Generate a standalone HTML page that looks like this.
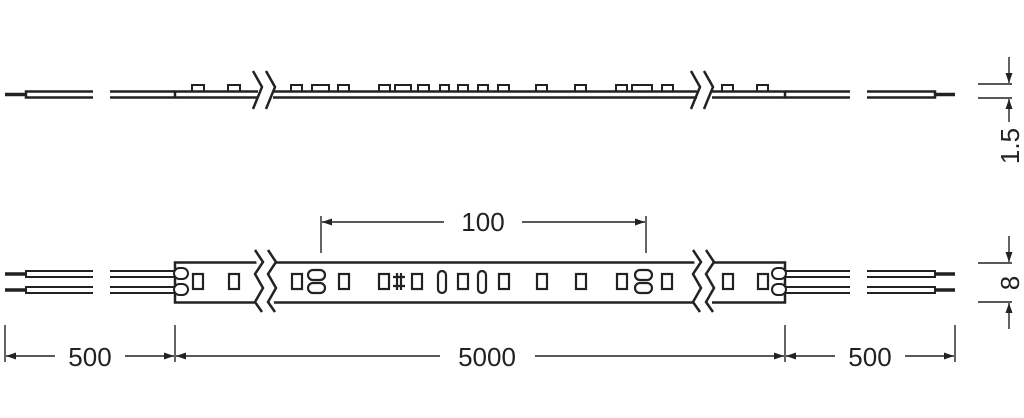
<!DOCTYPE html>
<html><head><style>
html,body{margin:0;padding:0;background:#fff;width:1024px;height:418px;overflow:hidden}
svg{display:block}
text{font-family:"Liberation Sans",sans-serif;fill:#222}
</style></head><body>
<svg width="1024" height="418" viewBox="0 0 1024 418" xmlns="http://www.w3.org/2000/svg">
<defs>
<marker id="a" viewBox="0 0 10 10" refX="10" refY="5" markerWidth="10" markerHeight="10" markerUnits="userSpaceOnUse" orient="auto"><path d="M0,1.5 L10,5 L0,8.5 z" fill="#222"/></marker>
</defs>
<g stroke="#222" stroke-width="2.5" fill="none">
<!-- TOP VIEW -->
<line x1="5" y1="94.5" x2="26" y2="94.5" stroke-width="3.5"/>
<path d="M93,91.5 H26 V97.5 H93"/>
<path d="M110,91.5 H175 M110,97.5 H175"/>
<path d="M175,97.5 V91.5 H258 M175,97.5 H258"/>
<path d="M273,91.5 H697 M273,97.5 H697"/>
<path d="M712,91.5 H785 V97.5 H712"/>
<path d="M785,91.5 H850 M785,97.5 H850"/>
<path d="M867,91.5 H935 V97.5 H867"/>
<line x1="935" y1="94.5" x2="955" y2="94.5" stroke-width="3.5"/>
<path d="M253,71 L262,87 L253,109 M266,71 L275,87 L266,109"/>
<path d="M691,71 L700,87 L691,109 M704,71 L713,87 L704,109"/>
<g stroke-width="2">
<path d="M192,91 V85 H204 V91 M228,91 V85 H240 V91"/>
<path d="M291,91 V85 H302 V91 M312,91 V85 H329 V91 M338,91 V85 H349 V91"/>
<path d="M379,91 V85 H390 V91 M395,91 V85 H411 V91 M418,91 V85 H429 V91"/>
<path d="M440,91 V85 H449 V91 M458,91 V85 H468 V91 M478,91 V85 H488 V91 M498,91 V85 H509 V91"/>
<path d="M536,91 V85 H547 V91 M575,91 V85 H586 V91 M616,91 V85 H627 V91 M632,91 V85 H652 V91 M662,91 V85 H673 V91"/>
<path d="M722,91 V85 H733 V91 M757,91 V85 H768 V91"/>
</g>
<!-- BOTTOM VIEW -->
<path d="M93,271 H26 V277 H93 M93,287 H26 V293 H93" stroke-width="2"/>
<path d="M5,274 H26 M5,290 H26" stroke-width="3.5"/>
<path d="M110,271 H180 M110,277 H180 M110,287 H180 M110,293 H180" stroke-width="2"/>
<path d="M258,262.5 H175 V302.5 H258"/>
<path d="M273,262.5 H697 M273,302.5 H697"/>
<path d="M712,262.5 H785 V302.5 H712"/>
<path d="M780,271 H850 M780,277 H850 M780,287 H850 M780,293 H850" stroke-width="2"/>
<path d="M867,271 H935 V277 H867 M867,287 H935 V293 H867" stroke-width="2"/>
<path d="M935,274 H955 M935,290 H955" stroke-width="3.5"/>
<rect x="174" y="268" width="14" height="11" rx="5.5" fill="#fff" stroke-width="2"/>
<rect x="174" y="284" width="14" height="11" rx="5.5" fill="#fff" stroke-width="2"/>
<rect x="772" y="268" width="14" height="11" rx="5.5" fill="#fff" stroke-width="2"/>
<rect x="772" y="284" width="14" height="11" rx="5.5" fill="#fff" stroke-width="2"/>
<path d="M255,250 L263,262 L255,274 L263,288 L255,302 L262,312 M268,250 L276,262 L268,274 L276,288 L268,302 L275,312" fill="#fff"/>
<path d="M693,250 L701,262 L693,274 L701,288 L693,302 L700,312 M706,250 L714,262 L706,274 L714,288 L706,302 L713,312" fill="#fff"/>
<g stroke-width="2.2">
<rect x="193" y="274" width="10" height="15"/><rect x="229" y="274" width="10" height="15"/>
<rect x="292" y="274" width="10" height="15"/>
<rect x="308" y="270" width="17" height="10" rx="5"/><rect x="308" y="283" width="17" height="10" rx="5"/>
<rect x="339" y="274" width="10" height="15"/>
<rect x="379" y="274" width="10" height="15"/>
<path d="M393,277 H405 M393,286 H405 M397,273 V290 M401,273 V290"/>
<rect x="412" y="274" width="10" height="15"/>
<rect x="438" y="271" width="8" height="22" rx="4"/>
<rect x="458" y="274" width="10" height="15"/>
<rect x="478" y="271" width="8" height="22" rx="4"/>
<rect x="499" y="274" width="10" height="15"/>
<rect x="537" y="274" width="10" height="15"/>
<rect x="576" y="274" width="10" height="15"/>
<rect x="617" y="274" width="10" height="15"/>
<rect x="635" y="270" width="17" height="10" rx="5"/><rect x="635" y="283" width="17" height="10" rx="5"/>
<rect x="662" y="274" width="10" height="15"/>
<rect x="723" y="274" width="10" height="15"/>
<rect x="758" y="274" width="10" height="15"/>
</g>
<!-- DIMENSIONS -->
<g stroke-width="1.4">
<line x1="321" y1="216" x2="321" y2="253"/><line x1="646" y1="216" x2="646" y2="253"/>
<line x1="444" y1="222" x2="322" y2="222" marker-end="url(#a)"/>
<line x1="522" y1="222" x2="645" y2="222" marker-end="url(#a)"/>
<line x1="5" y1="325" x2="5" y2="362"/><line x1="175" y1="325" x2="175" y2="362"/>
<line x1="785" y1="325" x2="785" y2="362"/><line x1="955" y1="325" x2="955" y2="362"/>
<line x1="55" y1="356" x2="6" y2="356" marker-end="url(#a)"/>
<line x1="125" y1="356" x2="174" y2="356" marker-end="url(#a)"/>
<line x1="440" y1="356" x2="176" y2="356" marker-end="url(#a)"/>
<line x1="535" y1="356" x2="784" y2="356" marker-end="url(#a)"/>
<line x1="835" y1="356" x2="786" y2="356" marker-end="url(#a)"/>
<line x1="905" y1="356" x2="954" y2="356" marker-end="url(#a)"/>
<line x1="978" y1="84" x2="1012" y2="84"/><line x1="978" y1="98" x2="1012" y2="98"/>
<line x1="1009" y1="57" x2="1009" y2="83" marker-end="url(#a)"/>
<line x1="1009" y1="122" x2="1009" y2="99" marker-end="url(#a)"/>
<line x1="978" y1="263" x2="1012" y2="263"/><line x1="978" y1="302" x2="1012" y2="302"/>
<line x1="1009" y1="236" x2="1009" y2="262" marker-end="url(#a)"/>
<line x1="1009" y1="329" x2="1009" y2="303" marker-end="url(#a)"/>
</g>
</g>
<g font-size="26">
<text x="483" y="231" text-anchor="middle">100</text>
<text x="90" y="366" text-anchor="middle">500</text>
<text x="487" y="366" text-anchor="middle">5000</text>
<text x="870" y="366" text-anchor="middle">500</text>
<text transform="translate(1019,146) rotate(-90)" text-anchor="middle">1.5</text>
<text transform="translate(1019,283) rotate(-90)" text-anchor="middle">8</text>
</g>
</svg>
</body></html>
